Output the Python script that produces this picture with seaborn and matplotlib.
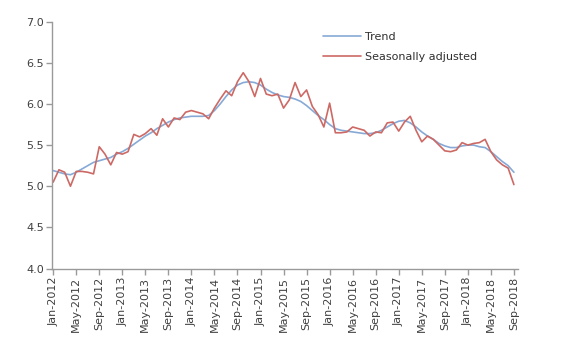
import matplotlib
matplotlib.use("Agg")
import matplotlib.pyplot as plt
import seaborn as sns
import pandas as pd

# ---- data ----
month_index = list(range(81))  # Jan-2012 .. Sep-2018
trend = [5.19, 5.17, 5.15, 5.14, 5.17, 5.21, 5.25, 5.29, 5.31, 5.33, 5.35, 5.39,
         5.42, 5.46, 5.51, 5.56, 5.61, 5.65, 5.70, 5.74, 5.78, 5.81, 5.83, 5.84,
         5.85, 5.85, 5.85, 5.86, 5.92, 6.00, 6.09, 6.17, 6.23, 6.26, 6.27, 6.26,
         6.23, 6.18, 6.14, 6.11, 6.09, 6.08, 6.06, 6.03, 5.98, 5.92, 5.86, 5.81,
         5.75, 5.70, 5.68, 5.67, 5.66, 5.65, 5.64, 5.64, 5.65, 5.68, 5.72, 5.76,
         5.79, 5.80, 5.77, 5.72, 5.66, 5.61, 5.57, 5.52, 5.49, 5.47, 5.47, 5.49,
         5.50, 5.50, 5.48, 5.47, 5.42, 5.36, 5.30, 5.25, 5.17]
seasonally_adjusted = [5.05, 5.20, 5.17, 5.00, 5.18, 5.18, 5.17, 5.15, 5.48, 5.39, 5.26, 5.41,
                       5.39, 5.42, 5.63, 5.60, 5.64, 5.70, 5.62, 5.82, 5.72, 5.83, 5.81, 5.90,
                       5.92, 5.90, 5.88, 5.82, 5.95, 6.06, 6.16, 6.10, 6.27, 6.38, 6.27, 6.09,
                       6.31, 6.12, 6.10, 6.12, 5.95, 6.05, 6.26, 6.09, 6.17, 5.97, 5.87, 5.72,
                       6.01, 5.65, 5.65, 5.66, 5.72, 5.70, 5.68, 5.61, 5.66, 5.65, 5.77, 5.78,
                       5.67, 5.78, 5.85, 5.68, 5.54, 5.61, 5.57, 5.50, 5.43, 5.42, 5.44, 5.53,
                       5.50, 5.52, 5.53, 5.57, 5.42, 5.32, 5.26, 5.22, 5.02]
tick_positions = list(range(0, 81, 4))
tick_labels = ["Jan-2012", "May-2012", "Sep-2012", "Jan-2013", "May-2013", "Sep-2013",
               "Jan-2014", "May-2014", "Sep-2014", "Jan-2015", "May-2015", "Sep-2015",
               "Jan-2016", "May-2016", "Sep-2016", "Jan-2017", "May-2017", "Sep-2017",
               "Jan-2018", "May-2018", "Sep-2018"]
y_ticks = [4.0, 4.5, 5.0, 5.5, 6.0, 6.5, 7.0]
series_names = ["Trend", "Seasonally adjusted"]

df = pd.concat([
    pd.DataFrame({"month": month_index, "value": trend, "series": series_names[0]}),
    pd.DataFrame({"month": month_index, "value": seasonally_adjusted, "series": series_names[1]}),
])

sns.set_style("white")
plt.rcParams["font.family"] = ["DejaVu Sans"]

fig = plt.figure(figsize=(5.8, 3.52), dpi=100)
ax = fig.add_axes([0.0897, 0.2372, 0.8033, 0.7012])

palette = {"Trend": "#86a9d6", "Seasonally adjusted": "#cd6965"}
sns.lineplot(data=df, x="month", y="value", hue="series", hue_order=series_names,
             palette=palette, linewidth=1.2, ax=ax)

ax.set_xlim(-0.2, 80.7)
ax.set_ylim(4.0, 7.0)
ax.set_yticks(y_ticks)
ax.set_yticklabels([f"{v:.1f}" for v in y_ticks])
ax.set_xticks(tick_positions)
ax.set_xticklabels(tick_labels, rotation=90)
ax.set_xlabel("")
ax.set_ylabel("")

for side in ["top", "right"]:
    ax.spines[side].set_visible(False)
for side in ["left", "bottom"]:
    ax.spines[side].set_color("#9a9a9a")
    ax.spines[side].set_linewidth(1.0)
ax.tick_params(axis="both", which="major", direction="out", length=4, width=1.0,
               color="#9a9a9a", labelsize=8, labelcolor="#404040", pad=2)
ax.tick_params(axis="y", left=True)
ax.tick_params(axis="x", bottom=True)

leg = ax.legend(loc="upper left", bbox_to_anchor=(0.56, 1.0), frameon=False,
                fontsize=8, handlelength=3.4, handletextpad=0.4, labelspacing=0.9,
                labelcolor="#303030")

fig.savefig("out.png", dpi=100)
